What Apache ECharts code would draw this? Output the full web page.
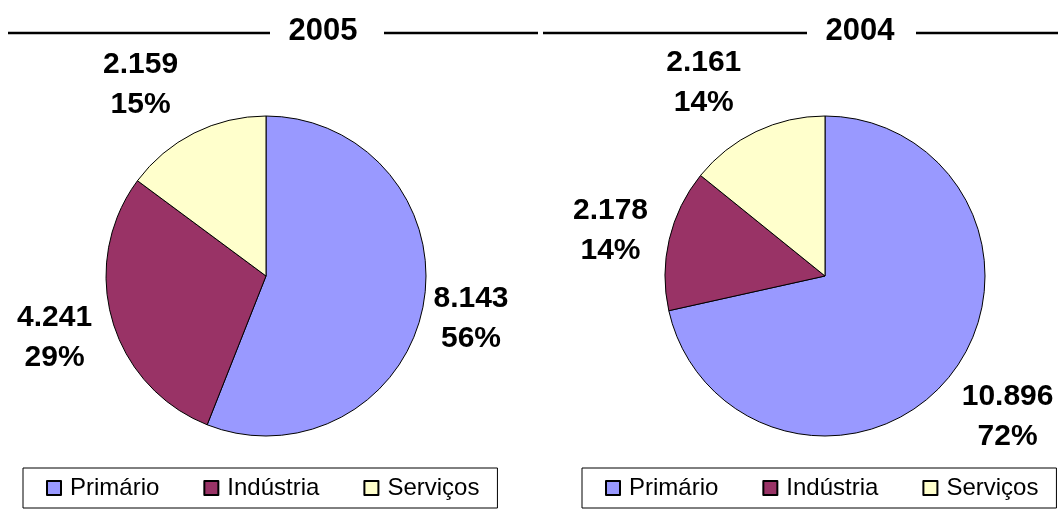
<!DOCTYPE html>
<html>
<head>
<meta charset="utf-8">
<script src="https://cdn.jsdelivr.net/npm/echarts@6/dist/echarts.min.js"></script>
<style>
html,body{margin:0;padding:0;background:#fff;}
#c{width:1058px;height:530px;}
</style>
</head>
<body>
<div id="c"></div>
<script>
// ---- data ----
var categories = ['Primário', 'Indústria', 'Serviços'];
var values2005 = [8143, 4241, 2159];
var values2004 = [10896, 2178, 2161];
var years = ['2005', '2004'];
var colors = ['#9999FF', '#993366', '#FFFFCC'];

var FONT = '"Liberation Sans", Arial, sans-serif';

function fmt(v) {
  return String(v).replace(/\B(?=(\d{3})+(?!\d))/g, '.');
}

function buildData(vals) {
  return categories.map(function (n, i) {
    return { name: n, value: vals[i], itemStyle: { color: colors[i] } };
  });
}

// label nudges (style only)
var nudge = [
  [[-17, 11], [7, 15], [6, -39]],
  [[-5, 34], [6, -6], [7, -40]]
];

function pieSeries(idx, vals, cx) {
  return {
    type: 'pie',
    name: years[idx],
    center: [cx, 276],
    radius: 160,
    startAngle: 90,
    clockwise: true,
    avoidLabelOverlap: false,
    animation: false,
    silent: true,
    itemStyle: { borderColor: '#000', borderWidth: 1 },
    label: {
      show: true,
      position: 'outside',
      distanceToLabelLine: 5,
      formatter: function (p) {
        return '{a|' + fmt(p.value) + '}\n{a|' + Math.round(p.percent) + '%}';
      },
      rich: {
        a: { fontSize: 30, fontWeight: 'bold', fontFamily: FONT, color: '#000', width: 100, align: 'center', lineHeight: 40 }
      }
    },
    labelLine: { show: false, length: 10, length2: 0 },
    labelLayout: function (params) {
      var n = nudge[idx][params.dataIndex];
      return { dx: n[0], dy: n[1] };
    },
    data: buildData(vals)
  };
}

function legendAt(left) {
  return {
    left: left,
    top: 468,
    orient: 'horizontal',
    icon: 'rect',
    itemWidth: 14,
    itemHeight: 14,
    itemGap: 44,
    selectedMode: false,
    borderColor: '#000',
    borderWidth: 1,
    padding: [8, 18, 8, 23],
    textStyle: { fontSize: 24, fontFamily: FONT, color: '#000', padding: [0, 0, 0, 4] },
    data: categories
  };
}

function titleGraphics(cx, lineL1, lineR1, lineL2, lineR2, text) {
  return [
    { type: 'line', shape: { x1: lineL1, y1: 33, x2: lineR1, y2: 33 }, style: { stroke: '#000', lineWidth: 2.5 } },
    { type: 'line', shape: { x1: lineL2, y1: 33, x2: lineR2, y2: 33 }, style: { stroke: '#000', lineWidth: 2.5 } },
    { type: 'text', x: cx, y: 31, style: { text: text, font: 'bold 31px ' + FONT, fill: '#000', textAlign: 'center', textVerticalAlign: 'middle' } }
  ];
}

var chart = echarts.init(document.getElementById('c'), null, { renderer: 'canvas' });
chart.setOption({
  backgroundColor: '#fff',
  animation: false,
  legend: [legendAt(23), legendAt(582)],
  graphic: titleGraphics(323, 8, 270, 384, 538, years[0]).concat(titleGraphics(860, 543, 807, 916, 1058, years[1])),
  series: [pieSeries(0, values2005, 266), pieSeries(1, values2004, 825)]
});
</script>
</body>
</html>
